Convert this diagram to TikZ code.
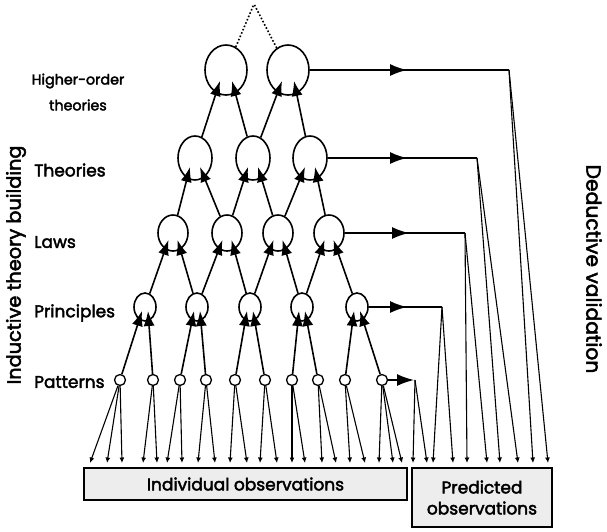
\documentclass[tikz,border=0pt]{standalone}
\usepackage{fontspec}
\setmainfont{Poppins}[FakeBold=2.5]
\usetikzlibrary{arrows.meta,calc,shapes.geometric}
\begin{document}
\begin{tikzpicture}[x=1pt,y=-1pt,
  lw/.style={line width=1.6pt},
  hon/.style={ellipse,draw,lw,minimum width=42pt,minimum height=50pt,inner sep=0pt},
  theo/.style={ellipse,draw,lw,minimum width=34pt,minimum height=44pt,inner sep=0pt},
  lawn/.style={ellipse,draw,lw,minimum width=30pt,minimum height=36pt,inner sep=0pt},
  prin/.style={ellipse,draw,lw,minimum width=22pt,minimum height=28pt,inner sep=0pt},
  patn/.style={circle,draw,line width=1.3pt,minimum size=11pt,inner sep=0pt,fill=white},
  upa/.style={lw,-{Latex[length=15pt,width=11pt]}},
  oba/.style={line width=1.1pt,-{Latex[length=5.5pt,width=5pt]}},
  rarr/.style={lw,-{Latex[length=17pt,width=12pt]}},
  plain/.style={lw},
  lbl/.style={font=\fontsize{17}{19}\selectfont,inner sep=0pt},
  box/.style={draw,lw,fill=gray!14,inner sep=0pt,font=\fontsize{17}{21}\selectfont,align=center}
]
\useasboundingbox (0,0) rectangle (607,531);

% observation boxes
\node[box,minimum width=323pt,minimum height=32pt] (ind) at (245.5,484) {Individual observations};
\node[box,minimum width=140pt,minimum height=59pt] (pred) at (482,497.5) {Predicted\\observations};

% nodes
\node[hon] (h1) at (226,70) {};
\node[hon] (h2) at (288,70) {};
\node[theo] (t1) at (195,158) {};
\node[theo] (t2) at (253,158) {};
\node[theo] (t3) at (310,158) {};
\node[lawn] (l1) at (173,233) {};
\node[lawn] (l2) at (227,233) {};
\node[lawn] (l3) at (278,233) {};
\node[lawn] (l4) at (329,233) {};
\node[prin] (p1) at (145,307) {};
\node[prin] (p2) at (197,307) {};
\node[prin] (p3) at (250,307) {};
\node[prin] (p4) at (302,307) {};
\node[prin] (p5) at (357,307) {};
\foreach \i/\x in {1/120,2/153,3/180,4/206,5/235,6/265,7/292,8/318,9/345,10/382}
  \node[patn] (q\i) at (\x,380) {};

% apex dotted
\coordinate (apex) at (254,4);
\draw[lw,dotted] (h1) -- (apex);
\draw[lw,dotted] (h2) -- (apex);

% upward arrows
\foreach \c/\p/\s in {t1/h1/-1,t2/h1/1,t2/h2/-1,t3/h2/1}
  \draw[upa] (\c) -- ($(\p.center)+(\s*6,11)$);
\foreach \c/\p/\s in {l1/t1/-1,l2/t1/1,l2/t2/-1,l3/t2/1,l3/t3/-1,l4/t3/1}
  \draw[upa] (\c) -- ($(\p.center)+(\s*5,9)$);
\foreach \c/\p/\s in {p1/l1/-1,p2/l1/1,p2/l2/-1,p3/l2/1,p3/l3/-1,p4/l3/1,p4/l4/-1,p5/l4/1}
  \draw[upa] (\c) -- ($(\p.center)+(\s*4.5,7)$);
\foreach \c/\p/\s in {q1/p1/-1,q2/p1/1,q3/p2/-1,q4/p2/1,q5/p3/-1,q6/p3/1,q7/p4/-1,q8/p4/1,q9/p5/-1,q10/p5/1}
  \draw[upa] (\c) -- ($(\p.center)+(\s*3,4)$);

% patterns to individual observations
\foreach \q/\x in {q1/90,q1/107,q1/122,q2/143,q2/157,q3/167,q3/182,q4/198,q4/215,
                   q5/230,q5/247,q6/260,q6/277,q7/292,q7/305,q8/322,q8/336,
                   q9/350,q9/365,q10/379,q10/393,q10/402}
  \draw[oba] (\q) -- (\x,463);

% deductive lines
\coordinate (c1) at (415,380);
\coordinate (c2) at (442,307);
\coordinate (c3) at (465,233);
\coordinate (c4) at (477,158);
\coordinate (c5) at (509,70);
\draw[rarr] (q10.east) -- (414,380);
\draw[rarr] (p5.east) -- (407,307);
\draw[plain] (p5.east) -- (c2);
\draw[rarr] (l4.east) -- (409,233);
\draw[plain] (l4.east) -- (c3);
\draw[rarr] (t3.east) -- (407,158);
\draw[plain] (t3.east) -- (c4);
\draw[rarr] (h2.east) -- (407,70);
\draw[plain] (h2.east) -- (c5);
\foreach \c/\x in {c1/413,c1/427,c2/433,c2/453,c3/467,c3/487,c4/500,c4/518,c5/533,c5/548}
  \draw[oba] (\c) -- (\x,463);

% labels
\node[lbl,font=\fontsize{14.3}{17}\selectfont] (lh1) at (78,81) {Higher-order};
\node[lbl,font=\fontsize{14.3}{17}\selectfont] (lh2) at (78,105) {theories};
\node[lbl,anchor=west] (lt) at (34,170) {Theories};
\node[lbl,anchor=west] (ll) at (34,242) {Laws};
\node[lbl,anchor=west] (lp) at (34,313) {Principles};
\node[lbl,anchor=west] (lq) at (34,382) {Patterns};
\node[lbl,rotate=90,font=\fontsize{19.3}{21}\selectfont] (lind) at (16,265) {Inductive theory building};
\node[lbl,rotate=-90,font=\fontsize{20.3}{22}\selectfont] (lded) at (594,269) {Deductive validation};
\end{tikzpicture}
\end{document}
